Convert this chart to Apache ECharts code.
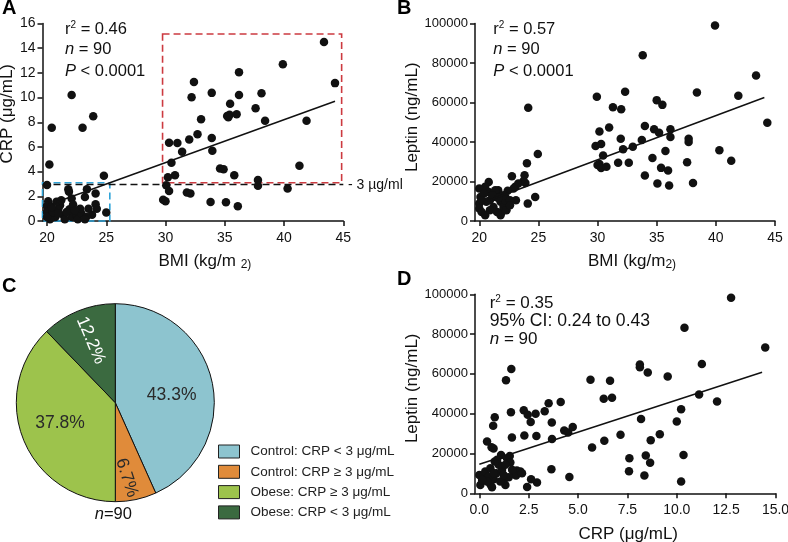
<!DOCTYPE html>
<html><head><meta charset="utf-8">
<script src="https://cdn.jsdelivr.net/npm/echarts@6/dist/echarts.min.js"></script>
<style>html,body{margin:0;padding:0;background:#fff}#c{width:788px;height:542px}</style>
</head><body><div id="c"></div>
<script>
// ---------- Panel A: BMI vs CRP ----------
const bmiA = [
  22.08, 23.9, 23.0, 20.4, 20.2, 24.8,
  21.8, 21.85, 23.37, 23.2, 24.1, 22.08, 24.1, 24.2, 23.8, 25.0, 20.1, 20.0, 20.0, 20.4,
  20.7, 20.95, 21.4, 21.9, 22.1, 22.5, 22.6, 22.9, 20.25, 20.0, 20.5, 21.1, 21.5, 20.4,
  20.8, 22.2, 22.8, 23.3, 23.5, 20.95, 21.65, 20.0, 23.2, 21.2, 22.35,
  43.37, 44.3, 39.9, 36.2, 32.4, 32.2, 33.9, 36.2, 38.1, 35.45, 37.6, 35.2, 35.4, 36.0,
  33.0, 38.4, 41.9, 32.7, 32.0, 33.9, 30.3, 31.0, 33.95, 31.4, 30.5, 34.6, 34.9, 41.3,
  30.8, 35.8, 30.2, 30.06, 30.3, 37.8, 37.8, 40.3, 31.8, 32.1, 29.8, 30.0, 33.8, 35.1, 36.1, 35.3
];
const crpA = [
  10.2, 8.48, 7.56, 7.56, 4.58, 3.66,
  2.57, 2.36, 2.57, 1.95, 2.22, 1.82, 1.36, 1.0, 0.51, 0.68, 1.6, 1.22, 0.73, 0.51,
  0.33, 0.95, 0.46, 0.95, 0.33, 0.46, 0.14, 0.6, 0.14, 0.33, 0.73, 1.27, 0.14, 1.14,
  1.55, 1.33, 1.0, 0.33, 1.0, 0.6, 0.73, 2.92, 0.14, 1.68, 0.87,
  14.5, 11.17, 12.7, 12.06, 11.27, 10.03, 10.38, 10.2, 10.35, 9.5, 9.13, 8.5, 8.6, 8.64,
  8.24, 8.13, 8.13, 7.02, 6.6, 6.72, 6.34, 6.31, 5.69, 5.61, 4.72, 4.25, 4.2, 4.47,
  3.71, 3.71, 3.55, 2.9, 2.44, 3.33, 2.85, 2.63, 2.3, 2.22, 1.73, 1.6, 1.54, 1.52, 1.19, 8.4
];
const fitA_bmi = [20, 44.3];
const fitA_crp = [1.25, 9.7];
const crpThreshold = 3;
const obeseBoxBmi = [29.75, 44.86];
const obeseBoxCrp = [3.1, 15.15];
const controlBoxBmi = [19.62, 25.3];
const controlBoxCrp = [0, 3.1];

// ---------- Panel B: BMI vs Leptin ----------
const bmiB = [
  24.14, 24.95, 24.03, 23.83, 22.76, 23.74, 23.3, 23.04, 22.9, 24.73,
  24.1, 23.1, 22.4, 22.2, 21.6, 21.4, 20.8, 20.5, 20.0, 20.1,
  20.0, 20.0, 20.2, 20.5, 20.8, 20.9, 21.2, 21.35, 21.8, 21.9,
  22.05, 21.8, 22.3, 22.2, 22.6, 22.6, 20.4, 20.6, 20.9, 21.5,
  20.2, 21.1, 22.05, 21.6, 23.9,
  39.93, 33.82, 43.4, 38.4, 41.9, 32.33, 29.94, 35.0, 35.48, 31.3,
  32.0, 34.0, 44.35, 30.16, 30.98, 34.78, 35.2, 36.16, 36.16, 31.96,
  33.74, 37.7, 37.7, 29.83, 30.3, 32.16, 32.98, 40.3, 35.74, 30.47,
  34.64, 41.3, 37.57, 31.74, 32.64, 30.0, 30.16, 30.3, 30.75, 35.37,
  35.96, 34.0, 35.06, 36.05, 38.07
];
const leptinB = [
  57300, 33900, 29200, 23200, 22700, 20300, 19000, 17300, 16400, 12200,
  8800, 10500, 15300, 12200, 15600, 12200, 19800, 17300, 16400, 12200,
  8800, 6300, 4600, 2900, 14700, 10500, 7100, 15600, 9700, 4600,
  7100, 2900, 5400, 10500, 10500, 8000, 13900, 9700, 5400, 4600,
  10500, 13100, 13100, 11700, 19200,
  99000, 83900, 73700, 65100, 63400, 65400, 62900, 61200, 58800, 57600,
  56600, 48100, 49700, 45300, 47300, 46400, 44700, 46400, 42500, 41700,
  41000, 41700, 40000, 38000, 39000, 36300, 37600, 35800, 35400, 33200,
  31900, 30500, 29800, 29500, 29500, 28300, 28800, 26800, 27500, 26900,
  25600, 23000, 19000, 18000, 19300
];
const fitB_bmi = [20, 44.1];
const fitB_leptin = [8600, 62500];

// ---------- Panel D: CRP vs Leptin ----------
const crpD = [
  12.75, 10.39, 14.48, 11.27, 8.13, 8.13, 8.53, 9.54, 11.13, 12.04, 10.22, 8.19, 10.0,
  9.14, 8.68, 7.15, 7.6, 8.43, 8.65, 10.34, 7.58, 8.36, 10.22,
  1.62, 1.35, 5.63, 6.62, 6.3, 6.72, 4.12, 3.51, 3.31, 2.25, 2.85, 2.45, 1.6, 0.78, 0.7,
  3.67, 2.6, 4.3, 4.5, 4.73, 3.68, 2.89, 2.28, 1.65, 0.39, 0.62, 0.72, 5.71, 6.33,
  3.65, 4.56, 2.92, 2.42, 2.62, 1.9, 1.1, 1.4, 1.54, 1.57, 1.74, 1.86, 1.32, 1.23, 0.86,
  0.73, 0.56, 0.64, 0.05, 0.0, 0.22, 0.3, 0.47, 0.98, 0.9, 0.78, 1.15, 1.06, 0.39, 1.49,
  1.66, 2.08, 2.16, 0.56, 0.14, 1.32, 0.73, 1.23
];
const leptinD = [
  98300, 83200, 73300, 65000, 64700, 63400, 60700, 58700, 49700, 46100, 42200, 37300, 36100,
  29700, 26700, 29400, 17600, 19000, 15300, 19200, 11100, 8900, 5900,
  62500, 56800, 57100, 56500, 47500, 48000, 45900, 45200, 41200, 41700, 40000, 39500, 40700, 38200, 33900,
  35600, 35800, 31600, 30600, 33300, 27300, 28800, 29000, 28000, 26000, 23200, 22500, 23000, 26400,
  12100, 8200, 5400, 3200, 7100, 11400, 19300, 17600, 18700, 15500, 10900, 8900, 4200, 6700, 10100,
  7100, 4500, 3000, 4200, 9200, 8900, 10900, 8400, 14300, 16800, 16000, 11800, 5900, 5900, 8100,
  11800, 10900, 10100, 12600, 6700, 14300, 10100, 9200
];
const fitD_crp = [0, 14.32];
const fitD_leptin = [14600, 60800];

// ---------- Panel C: pie ----------
const pieNames = ['Control: CRP < 3 μg/mL', 'Control: CRP ≥ 3 μg/mL', 'Obese: CRP ≥ 3 μg/mL', 'Obese: CRP < 3 μg/mL'];
const pieValues = [43.3, 6.7, 37.8, 12.2];

// ---------- tick labels ----------
const bmiTicks = [20, 25, 30, 35, 40, 45];
const crpTicksD = [0, 2.5, 5, 7.5, 10, 12.5, 15];

const FONT = '"Liberation Sans", Arial, Helvetica, sans-serif';
const INK = '#111';
const pieColors = ['#8dc4cf', '#e08b3a', '#9dc34c', '#3b6a40'];
const pieLabelColors = ['#2a2a2a', '#2a2a2a', '#2a2a2a', '#ffffff'];
const pieLabelRotate = [0, -72, 0, -67];
const pieCenter = [115.3, 402.7];
const pieRadius = 99;
// label placement inside each slice: angle (deg, clockwise from 12 o'clock) and distance from centre
const pieLabelAngle = [82.2, 171.4, 250.1, 338.5];
const pieLabelDist = [56.9, 75.9, 58.8, 67];

function zip(a, b) { return a.map((v, i) => [v, b[i]]); }

function axisBase(grid) {
  return {
    gridIndex: grid, type: 'value', splitLine: { show: false },
    axisLine: { show: true, onZero: false, lineStyle: { color: INK, width: 1.5 } },
    axisTick: { show: true, inside: false, length: 5, lineStyle: { color: INK, width: 1.5 } },
    axisLabel: { color: INK, fontSize: 14, fontFamily: FONT },
    nameLocation: 'middle',
    nameTextStyle: { color: INK, fontSize: 17, fontFamily: FONT }
  };
}
const subRich = { sub: { fontSize: 12, fontFamily: FONT, color: INK, verticalAlign: 'top', padding: [8, 0, 0, 0] } };

const xA = axisBase(0);
Object.assign(xA, { min: 19.62, max: 45, name: 'BMI (kg/m {sub|2)}', nameGap: 30 });
xA.axisTick.customValues = bmiTicks; xA.axisLabel.customValues = bmiTicks; xA.axisLabel.margin = 10;
xA.nameTextStyle.padding = [0, 0, 0, 24]; xA.nameTextStyle.rich = subRich;

const yA = axisBase(0);
Object.assign(yA, { min: 0, max: 16, interval: 2, name: 'CRP (μg/mL)', nameGap: 17 });
yA.axisLabel.margin = 7; yA.nameTextStyle.padding = [0, 0, 0, 17];

const xB = axisBase(1);
Object.assign(xB, { min: 19.64, max: 45, name: 'BMI (kg/m{sub|2)}', nameGap: 30 });
xB.axisTick.customValues = bmiTicks; xB.axisLabel.customValues = bmiTicks; xB.axisLabel.margin = 10;
xB.nameTextStyle.padding = [0, 0, 0, 14]; xB.nameTextStyle.rich = subRich;

const yB = axisBase(1);
Object.assign(yB, { min: 0, max: 100000, interval: 20000, name: 'Leptin (ng/mL)', nameGap: 43 });
yB.axisLabel.margin = 7; yB.axisLabel.fontSize = 13; yB.axisLabel.formatter = v => String(v);
yB.nameTextStyle.padding = [0, 0, 0, 10];

const xD = axisBase(2);
Object.assign(xD, { min: -0.22, max: 15, name: 'CRP (μg/mL)', nameGap: 33 });
xD.axisTick.customValues = crpTicksD; xD.axisLabel.customValues = crpTicksD; xD.axisLabel.margin = 10;
xD.axisLabel.formatter = v => v.toFixed(1);
xD.nameTextStyle.padding = [0, 0, 0, 6];

const yD = axisBase(2);
Object.assign(yD, { min: 0, max: 100000, interval: 20000, name: 'Leptin (ng/mL)', nameGap: 43 });
yD.axisLabel.margin = 7; yD.axisLabel.fontSize = 13; yD.axisLabel.formatter = v => String(v);
yD.nameTextStyle.padding = [0, 0, 0, 11];

const dot = { type: 'scatter', symbolSize: 8.5, itemStyle: { color: INK, opacity: 1 }, silent: true };
const fitLine = { type: 'line', showSymbol: false, silent: true, lineStyle: { color: INK, width: 1.5 } };

function annot(x, y, text, size) {
  const rich = {
    sup: { fontSize: 10, fontFamily: FONT, fill: INK, verticalAlign: 'top', lineHeight: 18 },
    i: { fontStyle: 'italic', fontSize: size, fontFamily: FONT, fill: INK }
  };
  return { type: 'text', x: x, y: y, silent: true,
    style: { text: text, fontSize: size, fontFamily: FONT, fill: INK, verticalAlign: 'middle', rich: rich } };
}
function letter(x, y, t) {
  return { type: 'text', x: x, y: y, silent: true,
    style: { text: t, fontSize: 20, fontWeight: 'bold', fontFamily: FONT, fill: '#000', verticalAlign: 'middle' } };
}

const option = {
  animation: false,
  backgroundColor: '#fff',
  grid: [
    { left: 42.5, top: 23.5, width: 300.8, height: 197.5, outerBoundsMode: 'none', containLabel: false },
    { left: 475, top: 23.5, width: 300, height: 197.5, outerBoundsMode: 'none', containLabel: false },
    { left: 475, top: 294.3, width: 300.5, height: 199, outerBoundsMode: 'none', containLabel: false }
  ],
  xAxis: [xA, xB, xD],
  yAxis: [yA, yB, yD],
  legend: {
    orient: 'vertical', left: 218, top: 444.5, padding: 0,
    itemWidth: 21, itemHeight: 13, itemGap: 6.3, icon: 'rect',
    data: pieNames,
    textStyle: { fontSize: 13.5, fontFamily: FONT, color: '#222', lineHeight: 13, padding: [0, 0, 0, 6] },
    itemStyle: { borderColor: '#222', borderWidth: 1 },
    selectedMode: false
  },
  series: [
    Object.assign({}, dot, {
      xAxisIndex: 0, yAxisIndex: 0, data: zip(bmiA, crpA),
      markLine: {
        silent: true, symbol: 'none', label: { show: false },
        lineStyle: { color: INK, width: 1.3, type: [7, 4] },
        data: [{ yAxis: crpThreshold }]
      },
      markArea: {
        silent: true, label: { show: false },
        data: [
          [{ coord: [obeseBoxBmi[0], obeseBoxCrp[1]], itemStyle: { color: 'rgba(0,0,0,0)', borderColor: '#cc3a40', borderWidth: 1.6, borderType: [7, 4] } },
           { coord: [obeseBoxBmi[1], obeseBoxCrp[0]] }],
          [{ coord: [controlBoxBmi[0], controlBoxCrp[1]], itemStyle: { color: 'rgba(0,0,0,0)', borderColor: '#2ea3d8', borderWidth: 1.6, borderType: [7, 4] } },
           { coord: [controlBoxBmi[1], controlBoxCrp[0]] }]
        ]
      }
    }),
    Object.assign({}, fitLine, { xAxisIndex: 0, yAxisIndex: 0, data: zip(fitA_bmi, fitA_crp) }),
    Object.assign({}, dot, { xAxisIndex: 1, yAxisIndex: 1, data: zip(bmiB, leptinB) }),
    Object.assign({}, fitLine, { xAxisIndex: 1, yAxisIndex: 1, data: zip(fitB_bmi, fitB_leptin) }),
    Object.assign({}, dot, { xAxisIndex: 2, yAxisIndex: 2, data: zip(crpD, leptinD) }),
    Object.assign({}, fitLine, { xAxisIndex: 2, yAxisIndex: 2, data: zip(fitD_crp, fitD_leptin) }),
    {
      type: 'pie', center: pieCenter, radius: pieRadius, startAngle: 90, clockwise: true,
      silent: true,
      itemStyle: { borderColor: '#111', borderWidth: 1 },
      label: { show: true, position: 'inside', fontSize: 17.5, fontFamily: FONT, formatter: p => p.value.toFixed(1) + '%' },
      labelLine: { show: false },
      labelLayout: p => {
        const a = pieLabelAngle[p.dataIndex] * Math.PI / 180, d = pieLabelDist[p.dataIndex];
        return { x: pieCenter[0] + d * Math.sin(a), y: pieCenter[1] - d * Math.cos(a), align: 'center', verticalAlign: 'middle' };
      },
      data: pieNames.map((n, i) => ({
        name: n, value: pieValues[i],
        itemStyle: { color: pieColors[i] },
        label: { color: pieLabelColors[i], rotate: pieLabelRotate[i] }
      }))
    }
  ],
  graphic: [
    letter(2, 8, 'A'), letter(397, 8, 'B'), letter(2, 286, 'C'), letter(397, 279, 'D'),
    annot(65, 29.5, 'r{sup|2} = 0.46', 16.5),
    annot(65, 49.5, '{i|n} = 90', 16.5),
    annot(65, 71, '{i|P} < 0.0001', 16.5),
    annot(493.3, 29.5, 'r{sup|2} = 0.57', 16.5),
    annot(493.3, 49.5, '{i|n} = 90', 16.5),
    annot(493.3, 71, '{i|P} < 0.0001', 16.5),
    annot(489.7, 303.5, 'r{sup|2} = 0.35', 17),
    annot(489.7, 321, '95% CI: 0.24 to 0.43', 17.6),
    annot(489.7, 339, '{i|n} = 90', 17),
    { type: 'text', x: 348, y: 185, silent: true,
      style: { text: '- 3 µg/ml', fontSize: 14, fontFamily: FONT, fill: INK, verticalAlign: 'middle' } },
    { type: 'text', x: 113.3, y: 514.3, silent: true,
      style: { text: '{i|n}=90', fontSize: 16.5, fontFamily: FONT, fill: INK, align: 'center', verticalAlign: 'middle',
        rich: { i: { fontStyle: 'italic', fontSize: 16.5, fontFamily: FONT, fill: INK } } } }
  ]
};

const chart = echarts.init(document.getElementById('c'), null, { renderer: 'canvas' });
chart.setOption(option);
</script></body></html>
